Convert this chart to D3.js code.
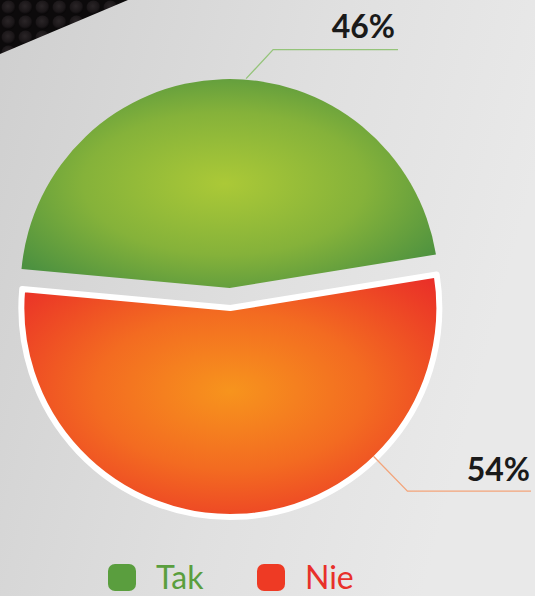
<!DOCTYPE html>
<html><head><meta charset="utf-8">
<script src="https://cdn.jsdelivr.net/npm/d3@7"></script>
<style>html,body{margin:0;padding:0;background:#dcdcdc;overflow:hidden}svg{display:block}</style>
</head><body>
<svg id="chart" width="535" height="596"></svg>
<script>
// ---- data ----
const categories = ["Tak", "Nie"];
const values = [46, 54];
const valueLabels = ["46%", "54%"];

// ---- setup ----
const W = 535, H = 596;
const svg = d3.select("#chart");
const defs = svg.append("defs");

// background
const bg = defs.append("linearGradient").attr("id", "bg").attr("x1", 0).attr("y1", 0).attr("x2", 1).attr("y2", 0.3);
bg.append("stop").attr("offset", 0).attr("stop-color", "#cfcfcf");
bg.append("stop").attr("offset", 0.6).attr("stop-color", "#e0e0e0");
bg.append("stop").attr("offset", 1).attr("stop-color", "#e9e9e9");
svg.append("rect").attr("width", W).attr("height", H).attr("fill", "url(#bg)");

// dark textured corner
const bump = defs.append("radialGradient").attr("id", "bump").attr("cx", 0.45).attr("cy", 0.4).attr("r", 0.6);
bump.append("stop").attr("offset", 0).attr("stop-color", "#2a2527");
bump.append("stop").attr("offset", 0.7).attr("stop-color", "#1a1618");
bump.append("stop").attr("offset", 1).attr("stop-color", "#070506");
const pat = defs.append("pattern").attr("id", "hex").attr("patternUnits", "userSpaceOnUse")
  .attr("width", 17).attr("height", 15);
pat.append("rect").attr("width", 17).attr("height", 15).attr("fill", "#0c0a0b");
pat.append("circle").attr("cx", 8.5).attr("cy", 7.5).attr("r", 7).attr("fill", "url(#bump)");
svg.append("path").attr("d", "M0,0 L128,0 L0,54 Z").attr("fill", "url(#hex)");

// gradients for slices
const gGreen = defs.append("radialGradient").attr("id", "g0").attr("cx", 0.49).attr("cy", 0.5).attr("r", 0.62);
gGreen.append("stop").attr("offset", 0).attr("stop-color", "#abc937");
gGreen.append("stop").attr("offset", 0.55).attr("stop-color", "#85b23a");
gGreen.append("stop").attr("offset", 1).attr("stop-color", "#4c9140");
const gRed = defs.append("radialGradient").attr("id", "g1").attr("cx", 0.5).attr("cy", 0.48).attr("r", 0.72);
gRed.append("stop").attr("offset", 0).attr("stop-color", "#f7941d");
gRed.append("stop").attr("offset", 0.45).attr("stop-color", "#f36b21");
gRed.append("stop").attr("offset", 0.8).attr("stop-color", "#ec3e26");
gRed.append("stop").attr("offset", 1).attr("stop-color", "#e8262a");

const color = d3.scaleOrdinal().domain(categories).range(["url(#g0)", "url(#g1)"]);
const legendColor = d3.scaleOrdinal().domain(categories).range(["#5a9e3e", "#ee3a24"]);
const textColor = d3.scaleOrdinal().domain(categories).range(["#5a9e3e", "#e8302a"]);
const leaderColor = d3.scaleOrdinal().domain(categories).range(["#95c47a", "#f3a47a"]);

const cx = 230, cy = 298, r = 209, explode = 10;
const rad = d => d * Math.PI / 180;
const start = rad(-84.8);
const pie = d3.pie().sort(null).startAngle(start).endAngle(start + 2 * Math.PI);
const arcs = pie(values);
const arc = d3.arc().innerRadius(0).outerRadius(r);

const g = svg.append("g").attr("transform", `translate(${cx},${cy})`);
const offset = d => {
  const m = (d.startAngle + d.endAngle) / 2;
  return [Math.sin(m) * explode, -Math.cos(m) * explode];
};

g.selectAll("path.slice").data(arcs).join("path")
  .attr("class", "slice")
  .attr("transform", d => `translate(${offset(d)})`)
  .attr("d", arc)
  .attr("fill", (d, i) => color(categories[i]))
  .attr("stroke", (d, i) => i === 1 ? "#ffffff" : "none")
  .attr("stroke-width", 6)
  .attr("stroke-linejoin", "round");

// leader lines and labels
const leader = [
  { ang: rad(4.5), rr: r + 1, dx: 27, dy: -29, endX: 398 - cx, tx: 395 - cx, ty: -12 },
  { ang: rad(136), rr: r - 3, dx: 34, dy: 35, endX: 531 - cx, tx: 530 - cx, ty: -10 }
];
arcs.forEach((d, i) => {
  const [ox, oy] = offset(d);
  const L = leader[i];
  const x0 = ox + Math.sin(L.ang) * L.rr, y0 = oy - Math.cos(L.ang) * L.rr;
  const x1 = x0 + L.dx, y1 = y0 + L.dy;
  g.append("path")
    .attr("d", d3.line()([[x0, y0], [x1, y1], [L.endX, y1]]))
    .attr("fill", "none").attr("stroke", leaderColor(categories[i])).attr("stroke-width", 1.3);
  g.append("text")
    .attr("x", L.tx).attr("y", y1 + L.ty)
    .attr("text-anchor", "end")
    .attr("font-family", "Lato, 'Open Sans', sans-serif")
    .attr("font-weight", 700).attr("font-size", 32)
    .attr("fill", "#1a1a1a")
    .text(valueLabels[i]);
});

// legend
const legendX = d3.scalePoint().domain(categories).range([108, 257]);
const lg = svg.append("g");
categories.forEach(c => {
  lg.append("rect").attr("x", legendX(c)).attr("y", 564).attr("width", 28).attr("height", 27)
    .attr("rx", 7).attr("fill", legendColor(c));
  lg.append("text").attr("x", legendX(c) + 48).attr("y", 589)
    .attr("font-family", "Lato, 'Open Sans', sans-serif").attr("font-size", 32)
    .attr("fill", textColor(c)).text(c);
});
</script>
</body></html>
